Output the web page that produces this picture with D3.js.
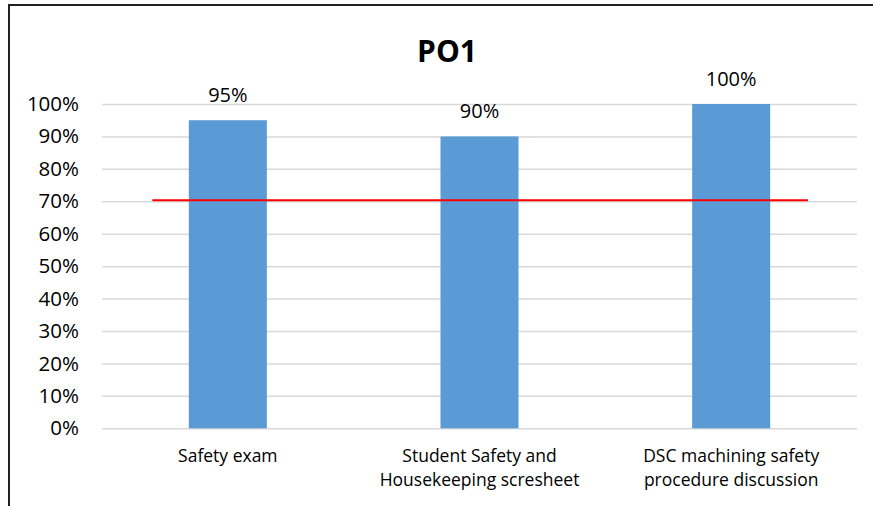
<!DOCTYPE html>
<html><head><meta charset="utf-8">
<script src="https://cdn.jsdelivr.net/npm/d3@7/dist/d3.min.js"></script>
<style>body{margin:0;background:#fff;} svg{display:block;}</style>
</head><body>
<svg id="chart" width="873" height="506"></svg>
<script>
const titleText = "PO1";
const categories = [["Safety exam"], ["Student Safety and", "Housekeeping scresheet"], ["DSC machining safety", "procedure discussion"]];
const values = [95, 90, 100];
const targetValue = 70;
const yTicks = [0, 10, 20, 30, 40, 50, 60, 70, 80, 90, 100];

const FONT = "'Open Sans', 'Liberation Sans', sans-serif";
const svg = d3.select("#chart");
svg.append("rect").attr("width", 873).attr("height", 506).attr("fill", "#fff");

// frame (cropped at right/bottom)
svg.append("line").attr("x1", 8).attr("x2", 873).attr("y1", 5).attr("y2", 5).attr("stroke", "#222").attr("stroke-width", 2);
svg.append("line").attr("x1", 9).attr("x2", 9).attr("y1", 4).attr("y2", 506).attr("stroke", "#222").attr("stroke-width", 2);

const idx = d3.range(categories.length);
const x = d3.scaleBand().domain(idx).range([102, 857]).paddingInner(0.69).paddingOuter(0.345);
const y = d3.scaleLinear().domain([0, 100]).range([428.3, 104]);
const xi = d3.scaleLinear().domain([0, categories.length - 1])
  .range([x(0) + x.bandwidth() / 2, x(categories.length - 1) + x.bandwidth() / 2]);

// gridlines + y axis
const yAxis = d3.axisLeft(y).tickValues(yTicks).tickFormat(d => d + "%").tickSize(-(857 - 102)).tickPadding(23);
const gy = svg.append("g").attr("transform", "translate(102,0)").call(yAxis);
gy.select(".domain").remove();
gy.selectAll(".tick line").attr("stroke", "#d9d9d9").attr("stroke-width", 1.5);
gy.selectAll(".tick text").attr("fill", "#000").attr("font-family", FONT).attr("font-size", 20.5);

// bars
svg.append("g").selectAll("rect").data(values).join("rect")
  .attr("x", (d, i) => x(i)).attr("width", x.bandwidth())
  .attr("y", d => y(d)).attr("height", d => y(0) - y(d))
  .attr("fill", "#5b9bd5");

// data labels
svg.append("g").selectAll("text").data(values).join("text")
  .attr("x", (d, i) => x(i) + x.bandwidth() / 2).attr("y", d => y(d) - 18)
  .attr("text-anchor", "middle").attr("font-family", FONT).attr("font-size", 20).attr("fill", "#000")
  .text(d => d + "%");

// target line
svg.append("line")
  .attr("x1", xi(-0.3)).attr("x2", xi(2.305))
  .attr("y1", y(targetValue) - 1).attr("y2", y(targetValue) - 1)
  .attr("stroke", "#ff0000").attr("stroke-width", 2);

// category labels
const cg = svg.append("g").selectAll("text").data(categories).join("text")
  .attr("text-anchor", "middle").attr("font-family", FONT).attr("font-size", 17.5).attr("fill", "#000");
cg.each(function (lines, i) {
  const t = d3.select(this);
  lines.forEach((ln, j) => {
    t.append("tspan").attr("x", x(i) + x.bandwidth() / 2).attr("y", 462 + j * 24).text(ln);
  });
});

// title
svg.append("text").attr("x", 447).attr("y", 62).attr("text-anchor", "middle")
  .attr("font-family", FONT).attr("font-weight", "bold").attr("font-size", 30).attr("fill", "#000")
  .text(titleText);
</script>
</body></html>
